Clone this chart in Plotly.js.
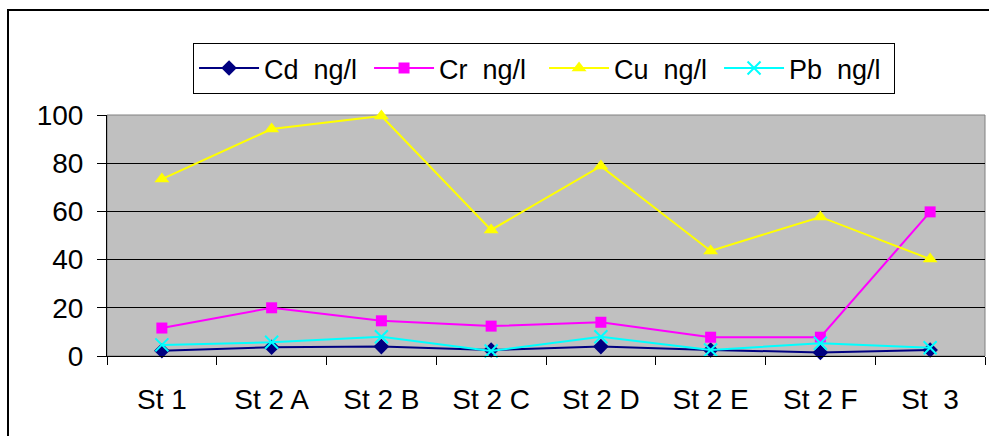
<!DOCTYPE html>
<html>
<head>
<meta charset="utf-8">
<script src="https://cdn.plot.ly/plotly-3.0.1.min.js"></script>
<style>
html,body{margin:0;padding:0;background:#fff;}
#wrap{position:relative;width:989px;height:436px;overflow:hidden;}
#chart{width:989px;height:436px;}
#frame{position:absolute;left:7px;top:9px;width:1200px;height:1000px;border-left:2px solid #000;border-top:2px solid #000;pointer-events:none;}
</style>
</head>
<body>
<div id="wrap"><div id="chart"></div><div id="frame"></div></div>
<script>
var categories = ['St 1', 'St 2 A', 'St 2 B', 'St 2 C', 'St 2 D', 'St 2 E', 'St 2 F', 'St\u00a0 3'];
var seriesNames = ['Cd\u00a0 ng/l', 'Cr\u00a0 ng/l', 'Cu\u00a0 ng/l', 'Pb\u00a0 ng/l'];
var cdValues = [2.2, 3.6, 3.9, 2.5, 3.9, 2.5, 1.5, 2.5];
var crValues = [11.6, 20.0, 14.6, 12.4, 14.0, 7.8, 7.8, 59.8];
var cuValues = [73.4, 94.2, 99.6, 52.3, 78.8, 43.6, 57.7, 40.2];
var pbValues = [4.6, 5.7, 8.0, 2.1, 8.0, 2.5, 5.3, 3.4];
var yTicks = [0, 20, 40, 60, 80, 100];

function tr(name, vals, color, symbol, size) {
  return {
    type: 'scatter', mode: 'lines+markers', name: name,
    x: categories, y: vals,
    line: {color: color, width: 2},
    marker: {color: color, symbol: symbol, size: size, line: {width: symbol === 'x-thin' ? 2 : 0, color: color}},
    cliponaxis: false
  };
}

var data = [
  tr(seriesNames[0], cdValues, '#000080', 'diamond', 12),
  tr(seriesNames[1], crValues, '#FF00FF', 'square', 11),
  tr(seriesNames[2], cuValues, '#FFFF00', 'triangle-up', 13),
  tr(seriesNames[3], pbValues, '#00FFFF', 'x-thin', 13)
];

var layout = {
  width: 989, height: 436,
  margin: {l: 107, r: 4, t: 115, b: 80},
  paper_bgcolor: '#ffffff',
  plot_bgcolor: '#C0C0C0',
  font: {family: 'Liberation Sans, Arial, sans-serif', size: 28, color: '#000'},
  showlegend: true,
  legend: {
    orientation: 'h', x: 0.098, y: 1.299, xanchor: 'left', yanchor: 'top',
    bgcolor: '#fff', bordercolor: '#000', borderwidth: 1,
    font: {size: 27}, itemwidth: 60, entrywidth: 100, traceorder: 'normal'
  },
  xaxis: {
    type: 'category', tickson: 'boundaries', ticks: 'outside', ticklen: 8, tickcolor: '#000',
    showline: true, linecolor: '#000', linewidth: 1, showgrid: false,
    tickfont: {size: 28}, ticklabelstandoff: 18, range: [-0.5, 7.5], fixedrange: true
  },
  yaxis: {
    range: [0, 100], tickvals: yTicks, ticktext: yTicks.map(String),
    ticks: 'outside', ticklen: 9, tickcolor: '#000',
    showline: true, linecolor: '#000', linewidth: 1,
    showgrid: true, gridcolor: '#000', gridwidth: 1, zeroline: false,
    tickfont: {size: 28}, ticklabelstandoff: 8, fixedrange: true
  },
  shapes: [{type: 'rect', xref: 'paper', yref: 'paper', x0: 0, x1: 1, y0: 0, y1: 1,
    line: {color: '#808080', width: 1}, fillcolor: 'rgba(0,0,0,0)', layer: 'below'}]
};

Plotly.newPlot('chart', data, layout, {staticPlot: true, displayModeBar: false});
</script>
</body>
</html>
